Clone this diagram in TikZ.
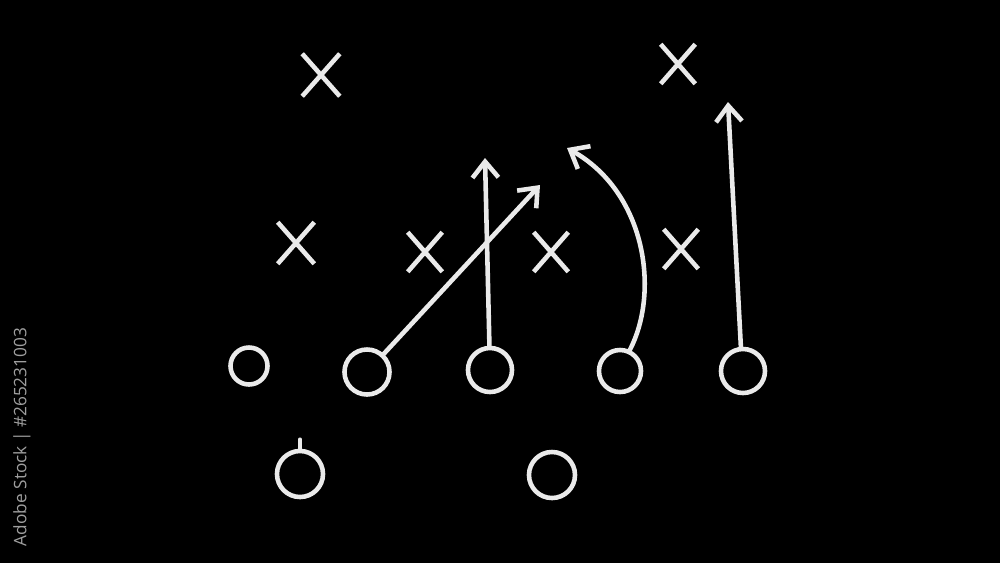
\documentclass[tikz,border=0pt]{standalone}
\usepackage{fontspec}
\setsansfont{Open Sans}
\usepackage{tikz}
\usetikzlibrary{shapes.misc, arrows.meta}
\definecolor{chalk}{HTML}{EAEAEA}
\tikzstyle{player}=[draw=chalk, circle, line width=1.3pt, minimum size=0.44cm, inner sep=0pt]
\tikzstyle{defender}=[draw=chalk, cross out, line width=1.3pt, minimum width=0.3cm, minimum height=0.35cm, inner sep=0pt]
\tikzstyle{route}=[chalk, line width=1.3pt, line cap=round]

\begin{document}
\begin{tikzpicture}[x=0.01cm, y=-0.01cm, >={Straight Barb[length=1.6mm, width=2.6mm]}]
		\fill[black] (0,0) rectangle (1000,563);
		\node[rotate=90, text=gray!75, font=\sffamily\fontsize{4.9}{5}\selectfont] (id) at (22,437) {Adobe Stock | \#265231003};
		%---------------------
		\node[defender, minimum width=0.33cm, minimum height=0.38cm] (x1) at (321,75) {};
		\node[defender] (x2) at (678,64) {};
		\node[defender, minimum width=0.32cm, minimum height=0.37cm] (x3) at (296,243) {};
		\node[defender] (x4) at (425,252) {};
		\node[defender] (x5) at (551,252) {};
		\node[defender] (x6) at (681,249) {};
		%---------------------
		\node[player, minimum size=0.37cm] (o1) at (249,366) {};
		\node[player, minimum size=0.45cm] (o2) at (367,372) {};
		\node[player] (o3) at (490,370) {};
		\node[player, minimum size=0.42cm] (o4) at (620,371) {};
		\node[player] (o5) at (743,371) {};
		\node[player, minimum size=0.46cm] (o6) at (300,474) {};
		\node[player, minimum size=0.46cm] (o7) at (552,475) {};
		%---------------------
		\coordinate (t2) at (540,185);
		\coordinate (t3) at (485,158);
		\coordinate (t4) at (567,148);
		\coordinate (t5) at (728,102);
		\draw[route, ->] (o2) -- (t2);
		\draw[route, ->] (o3) -- (t3);
		\draw[route, ->] (o4.65) .. controls (660,292) and (646,192) .. (t4);
		\draw[route, ->] (o5.95) -- (t5);
		\draw[route] (o6.90) -- ++(0,-9);
	\end{tikzpicture}
\end{document}
